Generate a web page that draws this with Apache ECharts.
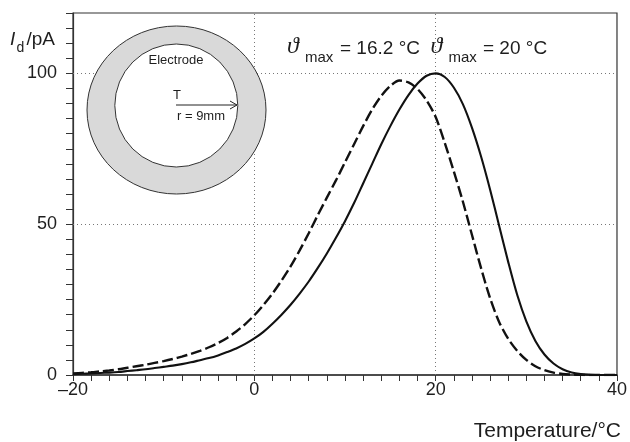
<!DOCTYPE html>
<html>
<head>
<meta charset="utf-8">
<script src="https://cdn.jsdelivr.net/npm/echarts@6/dist/echarts.min.js"></script>
<style>
html,body{margin:0;padding:0;background:#fff;}
#chart{width:630px;height:442px;}
</style>
</head>
<body>
<div id="chart"></div>
<script>
// Temperature grid (°C), -20 … 40 in 1 °C steps
const temperatures = [-20,-19,-18,-17,-16,-15,-14,-13,-12,-11,-10,-9,-8,-7,-6,-5,-4,-3,-2,-1,0,1,2,3,4,5,6,7,8,9,10,11,12,13,14,15,16,17,18,19,20,21,22,23,24,25,26,27,28,29,30,31,32,33,34,35,36,37,38,39,40];
// Solid curve: ϑmax = 20 °C  (I_d in pA)
const solidCurrent = [0.3,0.4,0.5,0.65,0.8,1.0,1.3,1.6,1.9,2.3,
  2.7,3.1,3.6,4.2,4.9,5.6,6.5,7.6,8.8,10.3,
  12.1,14.3,17.0,20.0,23.3,27.0,31.0,35.5,40.3,45.5,
  51.0,57.0,63.5,70.0,76.5,82.5,88.0,92.8,96.6,99.2,
  100,98.8,95.3,89.8,82.0,72.5,61.5,49.5,37.5,26.5,
  17.8,11.3,6.8,3.8,1.9,0.8,0.3,0.1,0,0,
  0];
// Dashed curve: ϑmax = 16.2 °C
const dashedCurrent = [0.5,0.7,0.9,1.2,1.5,1.9,2.4,2.9,3.4,4.0,
  4.6,5.3,6.1,7.0,8.0,9.2,10.6,12.3,14.4,16.9,
  19.8,23.2,27.0,31.3,36.0,41.3,47.0,53.0,58.8,64.5,
  70.5,76.5,82.5,88.0,92.5,95.8,97.6,97.0,94.8,91.0,
  85.5,77.0,67.5,57.5,46.5,35.5,25.5,17.6,12.0,8.0,
  5.0,2.9,1.6,0.8,0.35,0.15,0.05,0,0,0,
  0];
// Axis ticks
const xLabelValues = [-20, 0, 20, 40];
const yLabelValues = [0, 50, 100];
const xGridValues = [0, 20];
const yGridValues = [50, 100];

const toPairs = (xs, ys) => xs.map((x, i) => [x, ys[i]]);
const ink = '#1e1e1e';
const font = 'Liberation Sans, Arial, Helvetica, sans-serif';

const chart = echarts.init(document.getElementById('chart'), null, {renderer: 'canvas'});

const gridMarks = xGridValues.map(v => ({xAxis: v})).concat(yGridValues.map(v => ({yAxis: v})));

chart.setOption({
  animation: false,
  backgroundColor: '#fff',
  grid: {left: 73, right: 11, top: 13, bottom: 67, show: true, borderColor: '#333', borderWidth: 1.2, containLabel: false},
  xAxis: {
    type: 'value', min: -20, max: 40, interval: 2,
    axisLine: {show: true, onZero: false, lineStyle: {color: '#333', width: 1.5}},
    axisTick: {show: true, inside: false, length: 6, lineStyle: {color: '#333', width: 1}},
    splitLine: {show: false},
    axisLabel: {
      color: ink, fontSize: 18, fontFamily: font, margin: 6,
      formatter: v => xLabelValues.indexOf(v) >= 0 ? (v < 0 ? '\u2013' + Math.abs(v) : String(v)) : ''
    }
  },
  yAxis: {
    type: 'value', min: 0, max: 120, interval: 5,
    axisLine: {show: true, onZero: false, lineStyle: {color: '#333', width: 1.2}},
    axisTick: {show: true, inside: false, length: 7, lineStyle: {color: '#333', width: 1}},
    splitLine: {show: false},
    axisLabel: {
      color: ink, fontSize: 18, fontFamily: font, margin: 16,
      formatter: v => yLabelValues.indexOf(v) >= 0 ? String(v) : ''
    }
  },
  series: [
    {
      type: 'line', name: 'dashed', data: toPairs(temperatures, dashedCurrent),
      smooth: 0.3, showSymbol: false, symbol: 'none',
      lineStyle: {color: '#111', width: 2.4, type: [11, 4]},
      z: 3,
      markLine: {
        silent: true, symbol: 'none', label: {show: false},
        lineStyle: {color: '#777', width: 1, type: [1, 3]},
        data: gridMarks, z: 1
      }
    },
    {
      type: 'line', name: 'solid', data: toPairs(temperatures, solidCurrent),
      smooth: 0.3, showSymbol: false, symbol: 'none',
      lineStyle: {color: '#111', width: 2.1, type: 'solid'},
      z: 3
    }
  ],
  graphic: [
    // inset electrode ring
    {type: 'ellipse', z: 100, shape: {cx: 176.5, cy: 110, rx: 89.5, ry: 84}, style: {fill: '#d9d9d9', stroke: '#333', lineWidth: 1}},
    {type: 'circle', z: 101, shape: {cx: 176.3, cy: 105.5, r: 61.5}, style: {fill: '#fff', stroke: '#333', lineWidth: 1}},
    {type: 'text', z: 102, style: {text: 'Electrode', x: 176, y: 60, align: 'center', verticalAlign: 'middle', font: '13px ' + font, fill: ink}},
    {type: 'text', z: 102, style: {text: 'T', x: 177, y: 95, align: 'center', verticalAlign: 'middle', font: '13px ' + font, fill: ink}},
    {type: 'line', z: 102, shape: {x1: 176, y1: 105, x2: 237, y2: 105}, style: {stroke: '#222', lineWidth: 1}},
    {type: 'polyline', z: 102, shape: {points: [[230, 101], [237, 105], [230, 109]]}, style: {stroke: '#222', lineWidth: 1, fill: null}},
    {type: 'text', z: 102, style: {text: 'r = 9mm', x: 177, y: 116, align: 'left', verticalAlign: 'middle', font: '13px ' + font, fill: ink}},
    // y axis title I_d/pA
    {type: 'text', z: 102, style: {text: 'I', x: 10, y: 40, align: 'left', verticalAlign: 'middle', font: 'italic 19px ' + font, fill: ink}},
    {type: 'text', z: 102, style: {text: 'd', x: 16.5, y: 48, align: 'left', verticalAlign: 'middle', font: '14px ' + font, fill: ink}},
    {type: 'text', z: 102, style: {text: '/pA', x: 26.5, y: 40, align: 'left', verticalAlign: 'middle', font: '19px ' + font, fill: ink}},
    // x axis title
    {type: 'text', z: 102, style: {text: 'Temperature/°C', x: 621, y: 431, align: 'right', verticalAlign: 'middle', font: '21px ' + font, fill: ink}},
    // peak annotations
    {type: 'text', z: 102, style: {text: '\u03D1', x: 287, y: 47, align: 'left', verticalAlign: 'middle', font: 'italic 24px Liberation Serif, DejaVu Serif, serif', fill: ink}},
    {type: 'text', z: 102, style: {text: 'max', x: 305, y: 57.6, align: 'left', verticalAlign: 'middle', font: '15px ' + font, fill: ink}},
    {type: 'text', z: 102, style: {text: '= 16.2 °C', x: 340, y: 49, align: 'left', verticalAlign: 'middle', font: '19px ' + font, fill: ink}},
    {type: 'text', z: 102, style: {text: '\u03D1', x: 430.5, y: 47, align: 'left', verticalAlign: 'middle', font: 'italic 24px Liberation Serif, DejaVu Serif, serif', fill: ink}},
    {type: 'text', z: 102, style: {text: 'max', x: 448.5, y: 57.6, align: 'left', verticalAlign: 'middle', font: '15px ' + font, fill: ink}},
    {type: 'text', z: 102, style: {text: '= 20 °C', x: 483, y: 49, align: 'left', verticalAlign: 'middle', font: '19px ' + font, fill: ink}}
  ]
});
</script>
</body>
</html>
